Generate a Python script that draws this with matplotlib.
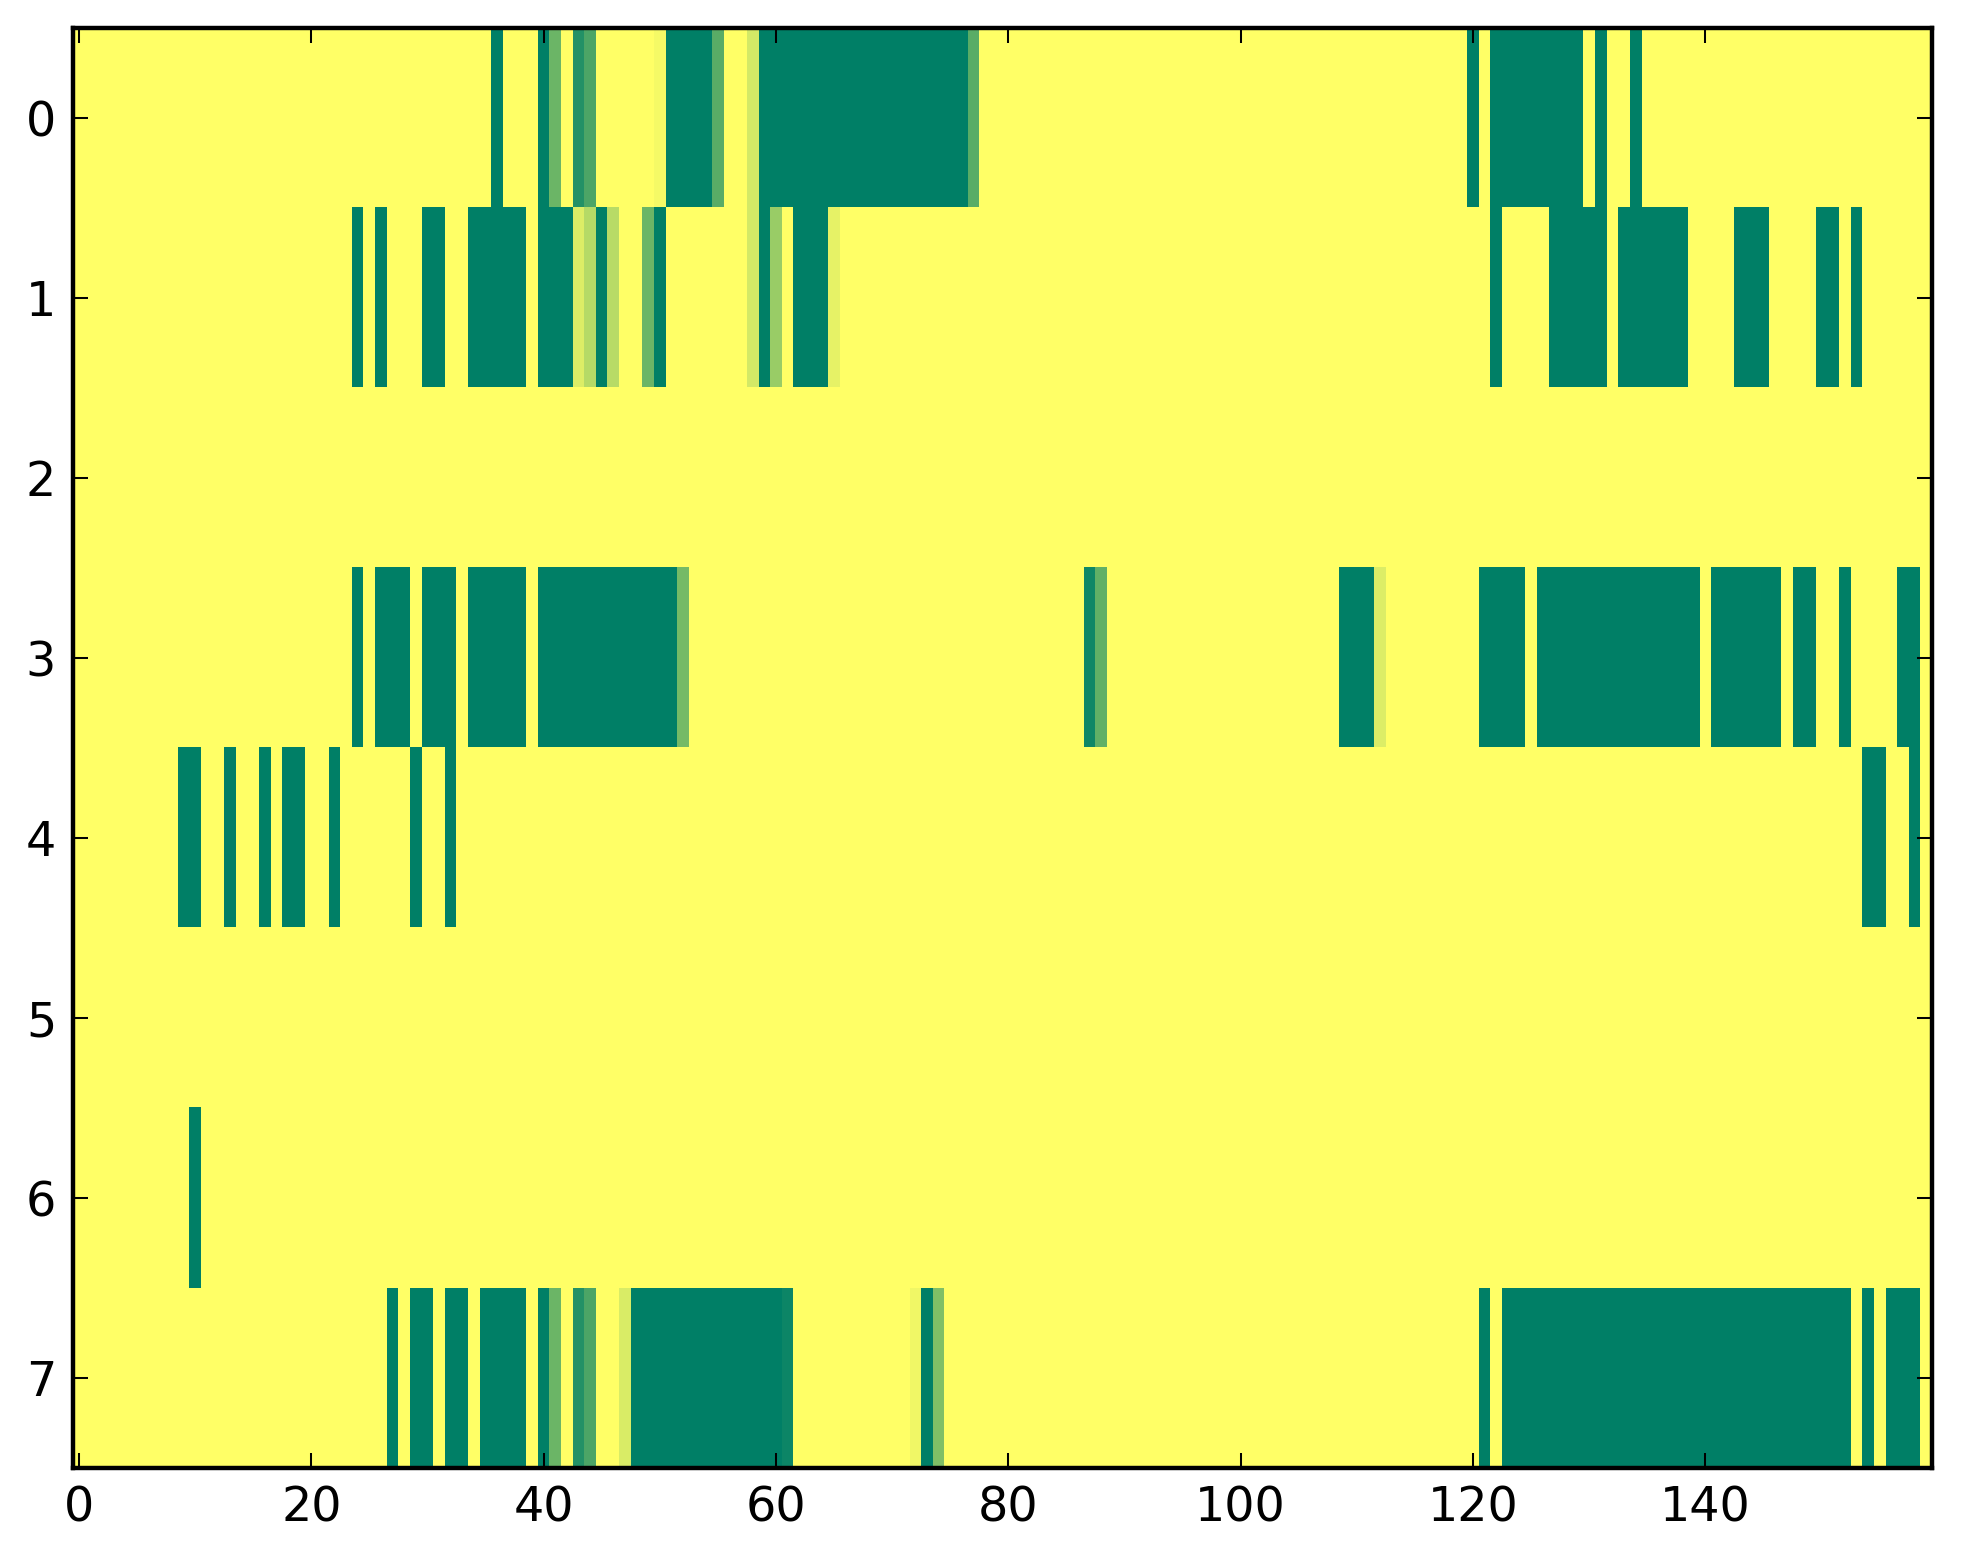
import numpy as np
import matplotlib
matplotlib.use("Agg")
import matplotlib.pyplot as plt

# grid size: 8 rows x 160 columns, background value is 1 (yellow)
n_rows = 8
n_cols = 160

# each row: (first col, last col exclusive, value) for cells that are not 1
row0 = [(36, 37, 0.0), (40, 41, 0.0), (41, 42, 0.42), (43, 44, 0.14), (44, 45, 0.30),
        (50, 51, 0.96), (51, 55, 0.0), (55, 56, 0.35), (58, 59, 0.83), (59, 77, 0.0),
        (77, 78, 0.35), (120, 121, 0.0), (122, 130, 0.0), (131, 132, 0.0), (134, 135, 0.0)]
row1 = [(24, 25, 0.0), (26, 27, 0.0), (30, 32, 0.0), (34, 39, 0.0), (40, 43, 0.0),
        (43, 44, 0.86), (44, 45, 0.71), (45, 46, 0.0), (46, 47, 0.72), (49, 50, 0.42),
        (50, 51, 0.0), (58, 59, 0.83), (59, 60, 0.0), (60, 61, 0.60), (62, 65, 0.0),
        (65, 66, 0.90), (122, 123, 0.0), (127, 132, 0.0), (133, 139, 0.0), (143, 146, 0.0),
        (150, 152, 0.0), (153, 154, 0.0)]
row2 = []
row3 = [(24, 25, 0.0), (26, 29, 0.0), (30, 33, 0.0), (34, 39, 0.0), (40, 52, 0.0),
        (52, 53, 0.46), (87, 88, 0.06), (88, 89, 0.38), (109, 112, 0.0), (112, 113, 0.86),
        (121, 125, 0.0), (126, 140, 0.0), (141, 147, 0.0), (148, 150, 0.0), (152, 153, 0.0),
        (157, 159, 0.0)]
row4 = [(9, 11, 0.0), (13, 14, 0.0), (16, 17, 0.0), (18, 20, 0.0), (22, 23, 0.0),
        (29, 30, 0.0), (32, 33, 0.0), (154, 156, 0.0), (158, 159, 0.0)]
row5 = []
row6 = [(10, 11, 0.0)]
row7 = [(27, 28, 0.0), (29, 31, 0.0), (32, 34, 0.0), (35, 39, 0.0), (40, 41, 0.0),
        (41, 42, 0.42), (43, 44, 0.14), (44, 45, 0.30), (47, 48, 0.85), (48, 61, 0.0),
        (61, 62, 0.05), (72, 73, 0.94), (73, 74, 0.0), (74, 75, 0.50), (121, 122, 0.0),
        (123, 153, 0.0), (154, 155, 0.0), (156, 159, 0.0)]

rows = [row0, row1, row2, row3, row4, row5, row6, row7]

data = np.ones((n_rows, n_cols))
for r, runs in enumerate(rows):
    for a, b, v in runs:
        data[r, a:b] = v

dpi = 245
plt.rcParams['font.family'] = ['DejaVu Sans']
fig = plt.figure(figsize=(1963 / dpi, 1564 / dpi), dpi=dpi, facecolor='white')
ax = fig.add_axes([0.0373, 0.0614, 0.9468, 0.9210])
ax.imshow(data, cmap='summer', vmin=0, vmax=1, aspect='auto', interpolation='nearest')

ax.set_xticks([0, 20, 40, 60, 80, 100, 120, 140])
ax.set_yticks(range(8))
ax.set_xlim(-0.5, n_cols - 0.5)
ax.set_ylim(n_rows - 0.5, -0.5)
ax.tick_params(direction='in', top=True, right=True, length=4.5, width=0.6,
               labelsize=14, pad=5)
for s in ax.spines.values():
    s.set_linewidth(1.3)

fig.savefig('out.png', dpi=dpi, facecolor='white')
